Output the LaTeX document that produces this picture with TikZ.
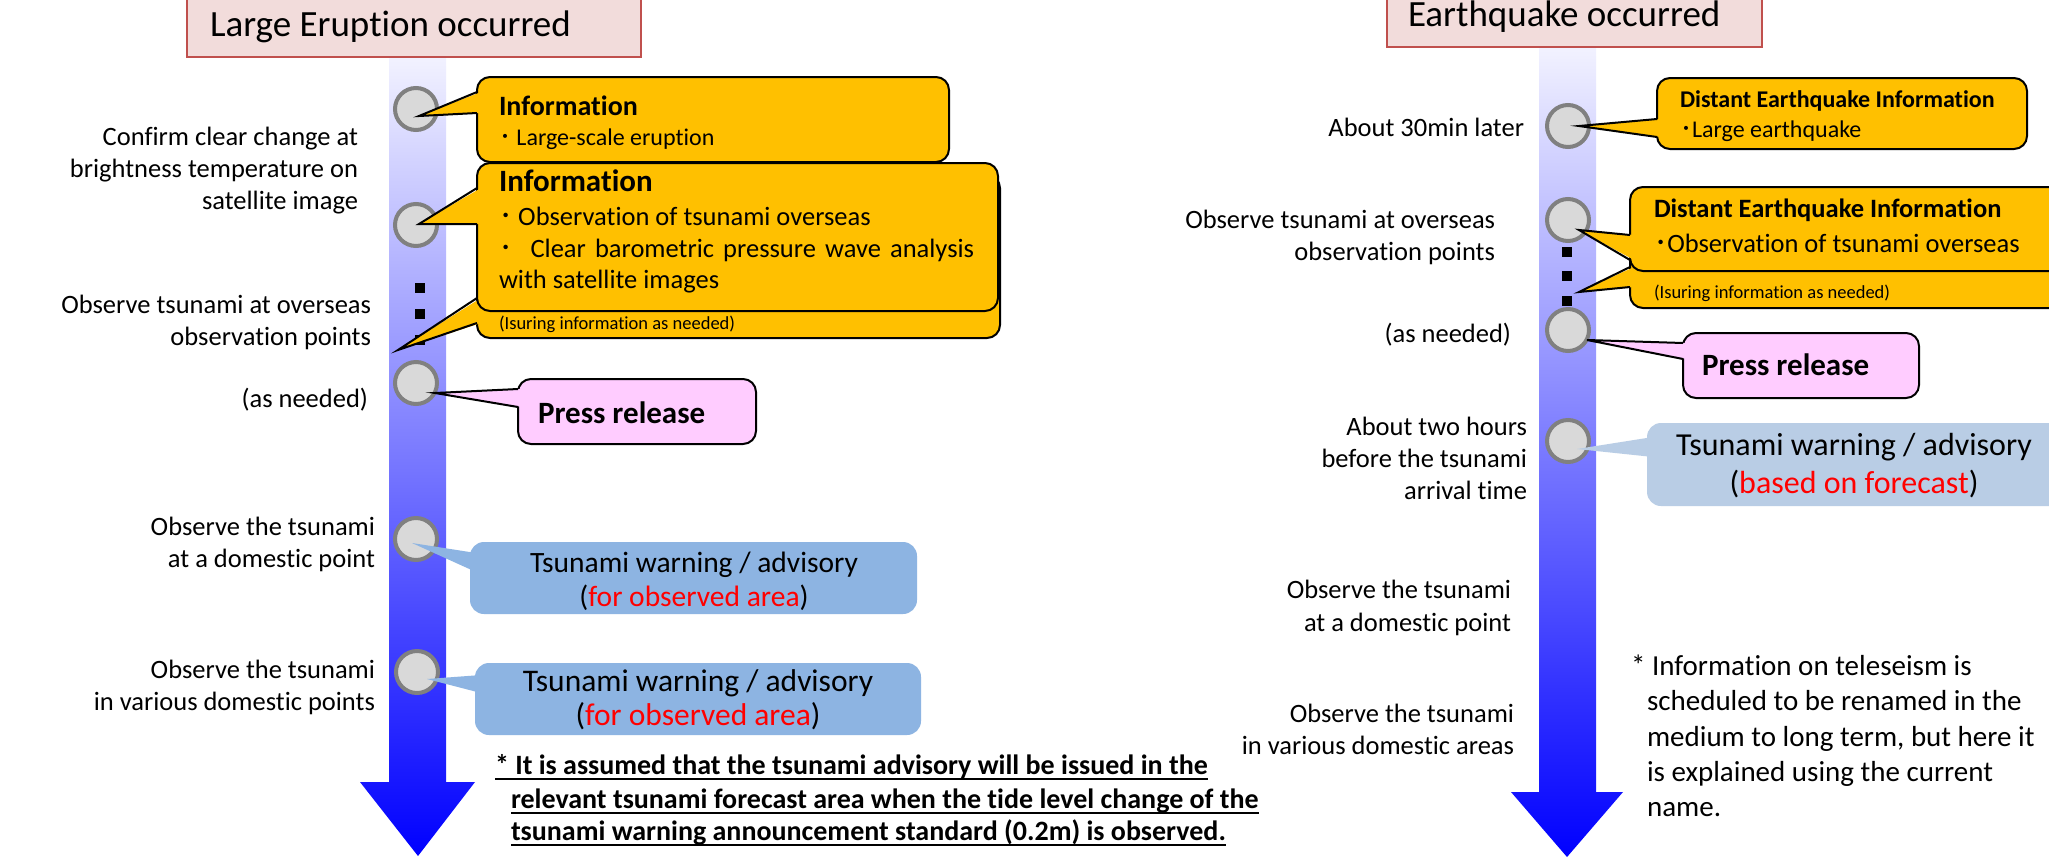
\documentclass[tikz,border=0pt]{standalone}
\usepackage{fontspec}
\setmainfont{Carlito}[Ligatures=NoCommon]
\newfontfamily\cjk{Noto Sans CJK JP}
\definecolor{infofill}{HTML}{FFC000}
\definecolor{pressfill}{HTML}{FFCCFF}
\definecolor{warnLfill}{HTML}{8DB4E2}
\definecolor{warnRfill}{HTML}{B9CDE5}
\definecolor{titlefill}{HTML}{F2DCDB}
\definecolor{titleline}{HTML}{C0504D}
\definecolor{stopfill}{HTML}{D9D9D9}
\definecolor{stopline}{HTML}{808080}
\definecolor{bartop}{HTML}{F2F2FF}
\definecolor{barbot}{HTML}{0000FF}
\newcommand{\callptr}[5]{%
  \fill[#1] ([xshift=4pt,yshift=-#3pt]#2.north west) -- #5 -- ([xshift=4pt,yshift=-#4pt]#2.north west) -- cycle;
  \draw[line width=2pt] ([yshift=-#3pt]#2.north west) -- #5 -- ([yshift=-#4pt]#2.north west);}
\newcommand{\flatptr}[5]{%
  \fill[#1] ([xshift=6pt,yshift=-#3pt]#2.north west) -- #5 -- ([xshift=6pt,yshift=-#4pt]#2.north west) -- cycle;}
\tikzset{
  every node/.style={inner sep=0pt, outer sep=0pt},
  lbl/.style={font=\fontsize{26.5pt}{32pt}\selectfont, anchor=base east},
  titlebox/.style={draw=titleline, fill=titlefill, line width=2pt, anchor=south west},
  titletxt/.style={font=\fontsize{37pt}{44pt}\selectfont, anchor=base west},
  stop/.style={circle, fill=stopfill, draw=stopline, line width=4pt, minimum size=42pt},
  tick/.style={rectangle, fill=black, minimum size=10pt},
  infobox/.style={rectangle, draw=black, fill=infofill, line width=2pt, rounded corners=13pt, anchor=north west},
  pressbox/.style={rectangle, draw=black, fill=pressfill, line width=2pt, rounded corners=13pt, anchor=north west},
  warnLbox/.style={rectangle, fill=warnLfill, rounded corners=14pt, anchor=north west},
  warnRbox/.style={rectangle, fill=warnRfill, rounded corners=14pt, anchor=north west},
  btxt/.style={anchor=base west},
  ctxt/.style={anchor=base},
  uline/.style={line width=1.6pt},
}
\begin{document}
\begin{tikzpicture}[x=1pt,y=-1pt]
\fill[white] (0,0) rectangle (2049,857);
\useasboundingbox (0,0) rectangle (2049,857);

% ---------- LEFT TIMELINE ----------
\shade[top color=bartop, bottom color=barbot]
  (389,57) -- (446,57) -- (446,782) -- (475,782) -- (418,856) -- (360,782) -- (389,782) -- cycle;
\node[titlebox, minimum width=454pt, minimum height=90pt] (lt) at (187,57) {};
\node[titletxt] (ltt) at (210,36) {Large Eruption occurred};

\node[stop] (lc1) at (416,109) {};
\node[stop] (lc2) at (416,225) {};
\node[stop] (lc3) at (416,383) {};
\node[stop] (lc4) at (416,539) {};
\node[stop] (lc5) at (417,672) {};
\node[tick] (ld1) at (420,288) {};
\node[tick] (ld2) at (420,314) {};
\node[tick] (ld3) at (420,340) {};

\node[lbl] (la1) at (358,145) {Confirm clear change at};
\node[lbl] (la2) at (358,177) {brightness temperature on};
\node[lbl] (la3) at (358,209) {satellite image};
\node[lbl] (lb1l) at (371,313) {Observe tsunami at overseas};
\node[lbl] (lb2l) at (371,345) {observation points};
\node[lbl] (lcl) at (368,407) {(as needed)};
\node[lbl] (ld1l) at (375,535) {Observe the tsunami};
\node[lbl] (ld2l) at (375,567) {at a domestic point};
\node[lbl] (le1l) at (375,678) {Observe the tsunami};
\node[lbl] (le2l) at (375,710) {in various domestic points};

% callout 1
\node[infobox, minimum width=472pt, minimum height=85pt] (lb1) at (477,77) {};
\callptr{infofill}{lb1}{15}{36}{([xshift=3pt,yshift=-7pt]lc1.center)}
\node[btxt, font=\bfseries\fontsize{28pt}{32pt}\selectfont] (lb1h) at (499,115) {Information};
\node[btxt, font=\fontsize{24pt}{28pt}\selectfont] (lb1t) at (499,145) {{\cjk ･} Large-scale eruption};

% callout 2 back
\node[infobox, minimum width=523pt, minimum height=163pt] (lb2b) at (477,175) {};
\callptr{infofill}{lb2b}{123}{148}{([xshift=-22pt,yshift=-10pt]ld3.center)}
\node[btxt, font=\fontsize{18.5pt}{22pt}\selectfont] (lb2n) at (499,329) {(Isuring information as needed)};
% callout 2 front
\node[infobox, minimum width=521pt, minimum height=148pt] (lb2) at (477,163) {};
\callptr{infofill}{lb2}{25}{61}{([xshift=3pt,yshift=1pt]lc2.center)}
\node[btxt, font=\bfseries\fontsize{31pt}{36pt}\selectfont] (lb2h) at (499,191) {Information};
\node[btxt, font=\fontsize{26.5pt}{32pt}\selectfont] (lb2t1) at (499,225) {{\cjk ･} Observation of tsunami overseas};
\node[btxt, font=\fontsize{26.5pt}{32pt}\selectfont] (lb2t2) at (499,257) {\makebox[475pt][s]{{\cjk ･}\ \ Clear barometric pressure wave analysis}};
\node[btxt, font=\fontsize{26.5pt}{32pt}\selectfont] (lb2t3) at (499,288) {with satellite images};

% press release
\node[pressbox, minimum width=238pt, minimum height=65pt] (lp) at (518,379) {};
\callptr{pressfill}{lp}{10}{28}{([xshift=19pt,yshift=-10pt]lc3.center)}
\node[btxt, font=\bfseries\fontsize{31pt}{36pt}\selectfont] (lpt) at (538,423) {Press release};

% warnings
\node[warnLbox, minimum width=447pt, minimum height=72pt] (lw1) at (470,542) {};
\flatptr{warnLfill}{lw1}{11}{30}{([xshift=-4pt,yshift=-4pt]lc4.center)}
\node[ctxt, font=\fontsize{29.5pt}{34pt}\selectfont] (lw1a) at (694,572) {Tsunami warning / advisory};
\node[ctxt, font=\fontsize{29.5pt}{34pt}\selectfont] (lw1b) at (694,606) {(\textcolor{red}{for observed area})};

\node[warnLbox, minimum width=446pt, minimum height=72pt] (lw2) at (475,663) {};
\flatptr{warnLfill}{lw2}{12}{30}{([xshift=10pt,yshift=-7pt]lc5.center)}
\node[ctxt, font=\fontsize{31.5pt}{36pt}\selectfont] (lw2a) at (698,691) {Tsunami warning / advisory};
\node[ctxt, font=\fontsize{31.5pt}{36pt}\selectfont] (lw2b) at (698,725) {(\textcolor{red}{for observed area})};

% footnote
\node[btxt, font=\bfseries\fontsize{28pt}{33pt}\selectfont] (lf1) at (495,774) {* It is assumed that the tsunami advisory will be issued in the};
\node[btxt, font=\bfseries\fontsize{28pt}{33pt}\selectfont] (lf2) at (511,808) {relevant tsunami forecast area when the tide level change of the};
\node[btxt, font=\bfseries\fontsize{28pt}{33pt}\selectfont] (lf3) at (511,840) {tsunami warning announcement standard (0.2m) is observed.};
\draw[uline] ([yshift=-5pt]lf1.base west) -- ([yshift=-5pt]lf1.base east);
\draw[uline] ([yshift=-5pt]lf2.base west) -- ([yshift=-5pt]lf2.base east);
\draw[uline] ([yshift=-5pt]lf3.base west) -- ([yshift=-5pt]lf3.base east);

% ---------- RIGHT TIMELINE ----------
\shade[top color=bartop, bottom color=barbot]
  (1539,47) -- (1596,47) -- (1596,792) -- (1623,792) -- (1567,857) -- (1511,792) -- (1539,792) -- cycle;
\node[titlebox, minimum width=375pt, minimum height=80pt] (rt) at (1387,47) {};
\node[titletxt] (rtt) at (1408,26) {Earthquake occurred};

\node[stop] (rc1) at (1568,126) {};
\node[stop] (rc2) at (1568,220) {};
\node[stop] (rc3) at (1568,330) {};
\node[stop] (rc4) at (1568,441) {};
\node[tick] (rd1) at (1567,252) {};
\node[tick] (rd2) at (1567,276) {};
\node[tick] (rd3) at (1567,301) {};

\node[lbl] (ra) at (1524,136) {About 30min later};
\node[lbl] (rb1l) at (1495,228) {Observe tsunami at overseas};
\node[lbl] (rb2l) at (1495,260) {observation points};
\node[lbl] (rcl) at (1511,342) {(as needed)};
\node[lbl] (rd1l) at (1527,435) {About two hours};
\node[lbl] (rd2l) at (1527,467) {before the tsunami};
\node[lbl] (rd3l) at (1527,499) {arrival time};
\node[lbl] (re1l) at (1511,598) {Observe the tsunami};
\node[lbl] (re2l) at (1511,631) {at a domestic point};
\node[lbl] (rf1l) at (1514,722) {Observe the tsunami};
\node[lbl] (rf2l) at (1514,754) {in various domestic areas};

% callout 1
\node[infobox, minimum width=370pt, minimum height=71pt] (rb1) at (1657,78) {};
\callptr{infofill}{rb1}{41}{59}{([xshift=11pt]rc1.center)}
\node[btxt, font=\bfseries\fontsize{24pt}{28pt}\selectfont] (rb1h) at (1680,107) {Distant Earthquake Information};
\node[btxt, font=\fontsize{24pt}{28pt}\selectfont] (rb1t) at (1680,137) {{\cjk ･}Large earthquake};

% callout 2 back
\node[infobox, minimum width=440pt, minimum height=108pt] (rb2b) at (1630,200) {};
\callptr{infofill}{rb2b}{67}{87}{([xshift=12pt,yshift=9pt]rd3.center)}
\node[btxt, font=\fontsize{18.5pt}{22pt}\selectfont] (rb2n) at (1654,298) {(Isuring information as needed)};
% callout 2 front
\node[infobox, minimum width=440pt, minimum height=84pt] (rb2) at (1630,187) {};
\callptr{infofill}{rb2}{48}{73}{([xshift=11pt,yshift=-10pt]rc2.center)}
\node[btxt, font=\bfseries\fontsize{26.5pt}{32pt}\selectfont] (rb2h) at (1654,217) {Distant Earthquake Information};
\node[btxt, font=\fontsize{26.5pt}{32pt}\selectfont] (rb2t) at (1654,252) {{\cjk ･}Observation of tsunami overseas};

% press release
\node[pressbox, minimum width=236pt, minimum height=65pt] (rp) at (1683,333) {};
\callptr{pressfill}{rp}{10}{26}{([xshift=19pt,yshift=-10pt]rc3.center)}
\node[btxt, font=\bfseries\fontsize{31pt}{36pt}\selectfont] (rpt) at (1702,375) {Press release};

% warning
\node[warnRbox, minimum width=420pt, minimum height=83pt] (rw) at (1647,423) {};
\flatptr{warnRfill}{rw}{14}{34}{([xshift=9pt,yshift=-8pt]rc4.center)}
\node[ctxt, font=\fontsize{32pt}{37pt}\selectfont] (rwa) at (1854,455) {Tsunami warning / advisory};
\node[ctxt, font=\fontsize{32pt}{37pt}\selectfont] (rwb) at (1854,493) {(\textcolor{red}{based on forecast})};

% footnote
\node[btxt, font=\fontsize{29pt}{35pt}\selectfont] (rf1) at (1631,675) {* Information on teleseism is};
\node[btxt, font=\fontsize{29pt}{35pt}\selectfont] (rf2) at (1647,710) {scheduled to be renamed in the};
\node[btxt, font=\fontsize{29pt}{35pt}\selectfont] (rf3) at (1647,746) {medium to long term, but here it};
\node[btxt, font=\fontsize{29pt}{35pt}\selectfont] (rf4) at (1647,781) {is explained using the current};
\node[btxt, font=\fontsize{29pt}{35pt}\selectfont] (rf5) at (1647,816) {name.};
\end{tikzpicture}
\end{document}
